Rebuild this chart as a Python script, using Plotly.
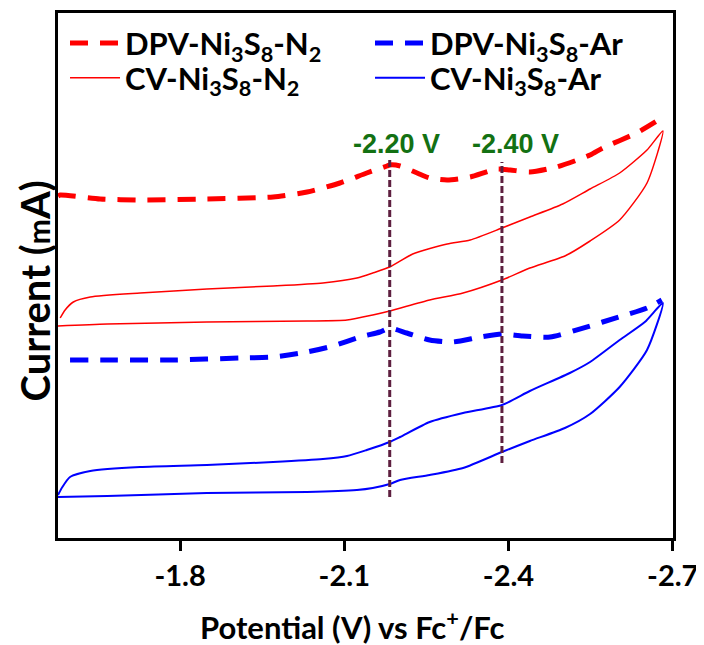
import plotly.graph_objects as go

# DPV curves (potential in V vs Fc+/Fc, current in arbitrary units)
dpv_n2_v = [-1.577, -1.581, -1.654, -1.727, -1.849, -1.970, -2.032, -2.092, -2.141, -2.178,
            -2.183, -2.202, -2.233, -2.256, -2.288, -2.330, -2.379, -2.403, -2.439, -2.488,
            -2.549, -2.572, -2.634, -2.680]
dpv_n2_i = [3.42, 3.43, 3.39, 3.38, 3.39, 3.41, 3.46, 3.55, 3.65, 3.72,
            3.73, 3.72, 3.65, 3.60, 3.58, 3.61, 3.69, 3.68, 3.66, 3.71,
            3.83, 3.90, 4.05, 4.20]

dpv_ar_v = [-1.599, -1.667, -1.787, -1.910, -1.970, -2.032, -2.079, -2.129, -2.165, -2.183,
            -2.214, -2.256, -2.298, -2.348, -2.388, -2.426, -2.476, -2.549, -2.572, -2.653,
            -2.680]
dpv_ar_i = [1.78, 1.78, 1.78, 1.80, 1.81, 1.86, 1.92, 2.01, 2.06, 2.10,
            2.05, 1.98, 1.96, 2.01, 2.04, 2.02, 2.01, 2.12, 2.16, 2.30,
            2.38]

# CV loops (forward sweep then return sweep)
cv_n2_v = [-1.577, -1.667, -1.849, -2.032, -2.105, -2.152, -2.183, -2.256, -2.317, -2.388,
           -2.439, -2.503, -2.549, -2.603, -2.653, -2.682,
           -2.653, -2.603, -2.549, -2.499, -2.439, -2.388, -2.330, -2.288, -2.225, -2.183,
           -2.152, -2.123, -2.061, -1.970, -1.849, -1.727, -1.636, -1.605, -1.590, -1.581]
cv_n2_i = [2.12, 2.14, 2.16, 2.17, 2.18, 2.23, 2.27, 2.38, 2.45, 2.58,
           2.70, 2.82, 2.97, 3.18, 3.55, 4.07,
           3.88, 3.65, 3.49, 3.34, 3.21, 3.10, 2.98, 2.94, 2.84, 2.71,
           2.65, 2.60, 2.55, 2.52, 2.49, 2.45, 2.41, 2.36, 2.28, 2.20]

cv_ar_v = [-1.577, -1.667, -1.849, -2.032, -2.123, -2.152, -2.183, -2.202, -2.256, -2.317,
           -2.388, -2.439, -2.503, -2.549, -2.603, -2.653, -2.682,
           -2.649, -2.603, -2.549, -2.512, -2.439, -2.388, -2.317, -2.256, -2.202, -2.183,
           -2.141, -2.105, -2.061, -1.970, -1.849, -1.727, -1.636, -1.599, -1.585, -1.577]
cv_ar_i = [0.41, 0.42, 0.45, 0.46, 0.48, 0.50, 0.54, 0.58, 0.63, 0.70,
           0.86, 0.97, 1.10, 1.24, 1.51, 1.88, 2.35,
           2.16, 1.98, 1.76, 1.65, 1.47, 1.33, 1.25, 1.16, 1.01, 0.96,
           0.88, 0.82, 0.79, 0.76, 0.73, 0.71, 0.67, 0.61, 0.51, 0.43]

peak_v = [-2.183, -2.388]
peak_labels = ["-2.20 V", "-2.40 V"]
label_v = [-2.196, -2.412]
tick_vals = [-1.8, -2.1, -2.4, -2.7]

FONT = "Lato"

fig = go.Figure()
fig.add_trace(go.Scatter(x=dpv_n2_v, y=dpv_n2_i, mode="lines", name="DPV-Ni<sub>3</sub>S<sub>8</sub>-N<sub>2</sub>",
                         legend="legend",
                         line=dict(color="#ff0000", width=5, dash="18px,12px", shape="spline", smoothing=0.6)))
fig.add_trace(go.Scatter(x=dpv_ar_v, y=dpv_ar_i, mode="lines", name="DPV-Ni<sub>3</sub>S<sub>8</sub>-Ar",
                         legend="legend",
                         line=dict(color="#0000ff", width=5, dash="18px,12px", shape="spline", smoothing=0.6)))
fig.add_trace(go.Scatter(x=cv_n2_v, y=cv_n2_i, mode="lines", name="CV-Ni<sub>3</sub>S<sub>8</sub>-N<sub>2</sub>",
                         legend="legend2",
                         line=dict(color="#ff0000", width=1.5, shape="spline", smoothing=0.6)))
fig.add_trace(go.Scatter(x=cv_ar_v, y=cv_ar_i, mode="lines", name="CV-Ni<sub>3</sub>S<sub>8</sub>-Ar",
                         legend="legend2",
                         line=dict(color="#0000ff", width=2, shape="spline", smoothing=0.6)))

# peak marker lines
tops = [3.81, 3.76]
bottoms = [0.41, 0.75]
for v, y0, y1, lv, lab in zip(peak_v, bottoms, tops, label_v, peak_labels):
    fig.add_shape(type="line", x0=v, x1=v, y0=y0, y1=y1, xref="x", yref="y",
                  line=dict(color="#5e1f3f", width=3, dash="7px,3px"))
    fig.add_annotation(x=lv, y=3.94, text=lab, showarrow=False, yanchor="middle",
                       font=dict(family="Liberation Sans", size=27, color="#137113", weight="bold"))

# axis titles as annotations so they can be placed freely
fig.add_annotation(xref="paper", yref="paper", x=0.478, y=-0.166, showarrow=False,
                   text="Potential (V) vs Fc<sup>+</sup>/Fc", xanchor="center", yanchor="middle",
                   font=dict(family=FONT, size=31, color="black", weight="bold"))
fig.add_annotation(xref="paper", yref="paper", x=-0.037, y=0.47, showarrow=False, textangle=-90,
                   text="Current (<span style='font-size:30px'>m</span>A)", xanchor="center", yanchor="middle",
                   font=dict(family=FONT, size=40, color="black", weight="bold"))

fig.update_xaxes(range=[-1.577, -2.7005], tickvals=tick_vals, ticktext=["-1.8", "-2.1", "-2.4", "-2.7"],
                 ticks="outside", ticklen=10, tickwidth=2.5, tickcolor="black",
                 showline=True, linewidth=3, linecolor="black", mirror=True,
                 showgrid=False, zeroline=False, automargin=False,
                 tickfont=dict(family=FONT, size=29, color="black", weight="bold"))
fig.update_yaxes(range=[0, 5.25], showticklabels=False, ticks="",
                 showline=True, linewidth=3, linecolor="black", mirror=True,
                 showgrid=False, zeroline=False, automargin=False)

leg_font = dict(family=FONT, size=31, color="black", weight="bold")
fig.update_layout(
    width=696, height=637,
    margin=dict(l=50, r=31, t=5, b=107),
    plot_bgcolor="white", paper_bgcolor="white",
    legend=dict(orientation="h", x=0.0114, y=0.942, xanchor="left", yanchor="middle",
                entrywidth=240, entrywidthmode="pixels", itemwidth=50,
                bgcolor="rgba(0,0,0,0)", font=leg_font),
    legend2=dict(orientation="h", x=0.0114, y=0.876, xanchor="left", yanchor="middle",
                 entrywidth=240, entrywidthmode="pixels", itemwidth=50,
                 bgcolor="rgba(0,0,0,0)", font=leg_font),
)

fig.write_html("out.html")
